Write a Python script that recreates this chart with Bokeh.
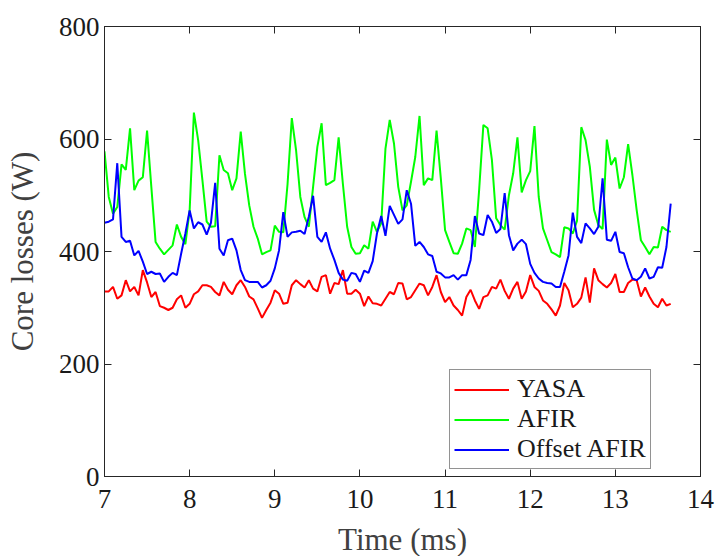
import numpy as np
from bokeh.plotting import figure
from bokeh.models import Range1d, LinearAxis, FixedTicker
from bokeh.embed import file_html
from bokeh.resources import INLINE

# Core losses (W), sampled every 0.05 ms from 7.00 ms
yasa = [329, 329, 337, 316, 322, 349, 329, 337, 322, 367,
        345, 319, 328, 303, 300, 296, 300, 315, 322, 300,
        307, 324, 329, 340, 340, 337, 328, 322, 346, 332,
        324, 340, 349, 337, 320, 315, 299, 282, 296, 309,
        331, 325, 307, 309, 340, 349, 342, 336, 349, 334,
        329, 355, 358, 325, 344, 342, 367, 325, 325, 332,
        325, 303, 320, 308, 307, 304, 316, 328, 324, 344,
        343, 315, 319, 331, 343, 340, 322, 337, 358, 328,
        310, 319, 304, 296, 286, 319, 332, 313, 298, 319,
        322, 337, 334, 350, 330, 316, 334, 346, 316, 329,
        358, 337, 330, 313, 307, 297, 286, 304, 344, 331,
        301, 307, 318, 354, 309, 370, 349, 342, 336, 344,
        360, 328, 328, 344, 350, 349, 320, 336, 320, 307,
        301, 316, 304, 307]

afir = [578, 497, 467, 479, 555, 545, 619, 509, 526, 532,
        615, 515, 417, 405, 395, 403, 411, 448, 426, 413,
        473, 647, 598, 527, 453, 444, 445, 571, 545, 539,
        509, 530, 613, 538, 482, 444, 423, 395, 399, 402,
        446, 435, 434, 520, 637, 580, 497, 461, 444, 515,
        586, 628, 518, 522, 527, 603, 520, 444, 408, 396,
        397, 411, 405, 453, 435, 450, 583, 634, 592, 515,
        473, 482, 524, 568, 641, 518, 530, 527, 615, 530,
        438, 417, 397, 396, 414, 441, 438, 408, 509, 625,
        619, 563, 459, 447, 439, 500, 539, 603, 505, 527,
        543, 623, 497, 441, 420, 399, 395, 390, 443, 441,
        432, 455, 621, 598, 551, 474, 447, 440, 599, 554,
        567, 512, 532, 591, 536, 474, 420, 408, 395, 408,
        407, 444, 438, 435]

offset_afir = [451, 453, 457, 557, 426, 417, 419, 393, 401, 382,
               360, 364, 360, 361, 346, 355, 362, 358, 396, 432,
               473, 441, 452, 448, 430, 451, 522, 405, 393, 420,
               423, 402, 367, 349, 346, 346, 346, 336, 340, 348,
               370, 402, 470, 426, 434, 435, 437, 431, 462, 499,
               426, 417, 434, 405, 385, 362, 350, 348, 362, 360,
               346, 366, 362, 383, 432, 463, 428, 481, 465, 449,
               457, 509, 485, 410, 417, 408, 395, 392, 364, 361,
               354, 354, 358, 350, 358, 358, 385, 463, 432, 429,
               465, 453, 433, 440, 504, 429, 402, 414, 421, 413,
               378, 362, 352, 346, 344, 343, 337, 337, 364, 393,
               469, 426, 415, 450, 441, 431, 444, 530, 421, 419,
               435, 399, 397, 372, 352, 349, 355, 370, 352, 355,
               372, 371, 408, 485]

time_ms = np.round(7.0 + 0.05 * np.arange(len(yasa)), 2)

x_ticks = [7, 8, 9, 10, 11, 12, 13, 14]
y_ticks = [0, 200, 400, 600, 800]

FONT = "Liberation Serif"
AX = "#262626"

p = figure(frame_width=596, frame_height=450, output_backend="svg", toolbar_location=None,
           x_range=Range1d(7, 14), y_range=Range1d(0, 800),
           min_border_left=104, min_border_right=17,
           min_border_top=26, min_border_bottom=80,
           background_fill_color="white", border_fill_color="white")
p.outline_line_color = AX
p.outline_line_width = 1
p.grid.visible = False

p.line(time_ms, yasa, color="#ff0000", line_width=2, legend_label="YASA")
p.line(time_ms, afir, color="#00ff00", line_width=2, legend_label="AFIR")
p.line(time_ms, offset_afir, color="#0000ff", line_width=2, legend_label="Offset AFIR")

p.xaxis.ticker = FixedTicker(ticks=x_ticks)
p.yaxis.ticker = FixedTicker(ticks=y_ticks)
p.xaxis.axis_label = "Time (ms)"
p.yaxis.axis_label = "Core losses (W)"

for ax in [p.xaxis[0], p.yaxis[0]]:
    ax.axis_line_color = AX
    ax.major_tick_line_color = AX
    ax.major_tick_in = 7
    ax.major_tick_out = 0
    ax.minor_tick_line_color = None
    ax.major_label_text_font = FONT
    ax.major_label_text_font_size = "27px"
    ax.major_label_text_color = "#1a1a1a"
    ax.axis_label_text_font = FONT
    ax.axis_label_text_font_size = "31px"
    ax.axis_label_text_font_style = "normal"
    ax.axis_label_text_color = "#404040"

p.xaxis[0].major_label_standoff = 13
p.xaxis[0].axis_label_standoff = 11
p.yaxis[0].major_label_standoff = 5
p.yaxis[0].axis_label_standoff = 16

right_ax = LinearAxis(ticker=FixedTicker(ticks=y_ticks), major_label_text_font_size="1px",
                      major_label_text_color=None,
                      major_tick_in=7, major_tick_out=0, minor_tick_line_color=None,
                      axis_line_color=AX, major_tick_line_color=AX, major_label_standoff=0)
top_ax = LinearAxis(ticker=FixedTicker(ticks=x_ticks), major_label_text_font_size="1px",
                    major_label_text_color=None,
                    major_tick_in=7, major_tick_out=0, minor_tick_line_color=None,
                    axis_line_color=AX, major_tick_line_color=AX, major_label_standoff=0)
p.add_layout(right_ax, "right")
p.add_layout(top_ax, "above")

lg = p.legend[0]
lg.location = (345, 7)
lg.label_text_font = FONT
lg.label_text_font_size = "26px"
lg.label_text_color = "#1a1a1a"
lg.glyph_width = 55
lg.glyph_height = 29
lg.label_height = 29
lg.label_standoff = 8
lg.spacing = 0
lg.padding = 4
lg.margin = 0
lg.border_line_color = AX
lg.border_line_width = 1
lg.background_fill_color = "white"
lg.background_fill_alpha = 1.0

open("out.html", "w").write(file_html(p, INLINE))
